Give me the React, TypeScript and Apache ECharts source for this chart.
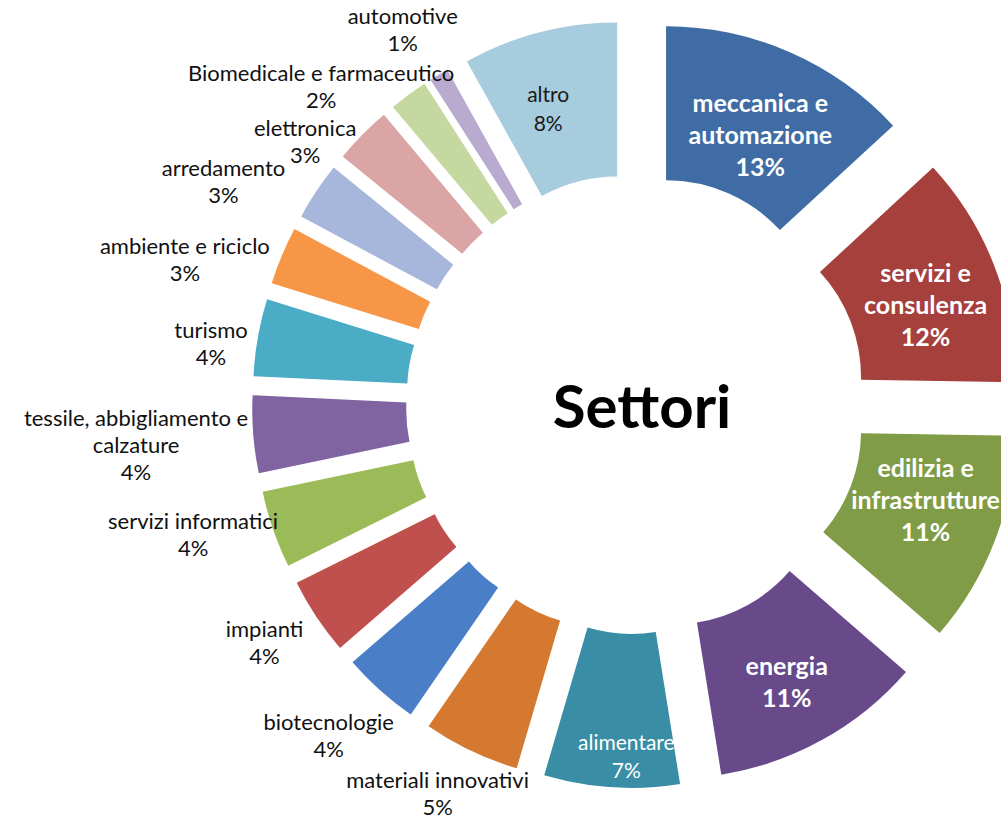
import React, { useEffect, useRef } from "react";
import * as echarts from "echarts";

// ---- data ----
const categories = [
  "meccanica e automazione",
  "servizi e consulenza",
  "edilizia e infrastrutture",
  "energia",
  "alimentare",
  "materiali innovativi",
  "biotecnologie",
  "impianti",
  "servizi informatici",
  "tessile, abbigliamento e calzature",
  "turismo",
  "ambiente e riciclo",
  "arredamento",
  "elettronica",
  "Biomedicale e farmaceutico",
  "automotive",
  "altro",
];
const values = [13, 12, 11, 11, 7, 5, 4, 4, 4, 4, 4, 3, 3, 3, 2, 1, 8];
const labelText = [
  "meccanica e\nautomazione",
  "servizi e\nconsulenza",
  "edilizia e\ninfrastrutture",
  "energia",
  "alimentare",
  "materiali innovativi",
  "biotecnologie",
  "impianti",
  "servizi informatici",
  "tessile, abbigliamento e\ncalzature",
  "turismo",
  "ambiente e riciclo",
  "arredamento",
  "elettronica",
  "Biomedicale e farmaceutico",
  "automotive",
  "altro",
];
const centerTitle = "Settori";

// ---- styles ----
const colors = [
  "#3F6CA4", "#A5403D", "#809C46", "#684A8B", "#398EA5", "#D4792F",
  "#4A7EC6", "#C0504D", "#9BBB59", "#8064A2", "#4BACC6", "#F79646",
  "#A7B7DB", "#DAA5A4", "#C5D89F", "#B8ABCF", "#A7CCDE",
];
// label style key: w = bold white inside, a = white inside, k = dark inside, o = outside
const labelKind = ["w", "w", "w", "w", "a", "o", "o", "o", "o", "o", "o", "o", "o", "o", "o", "o", "k"];
// label nudges [dx, dy]
const labelNudge: number[][] = [
  [0, 14], [0, 11], [0, -16], [0, 6], [10, 42],
  [63, 42], [19, 45], [-8, 25], [10, 4], [0, 10], [-5, 6],
  [-7, 3], [-26, -10], [-1, 6], [51, -9], [24, -46],
  [-10, 4],
];

const FONT = "Lato, 'Open Sans', sans-serif";

export default function App() {
  const ref = useRef<HTMLDivElement>(null);
  useEffect(() => {
    if (!ref.current) return;
    const chart = echarts.init(ref.current, undefined, { renderer: "svg" });
    const rich = {
      w: { align: "center", color: "#ffffff", fontWeight: "bold", fontSize: 25, lineHeight: 32, fontFamily: FONT },
      a: { align: "center", color: "#ffffff", fontSize: 21, lineHeight: 28, fontFamily: FONT },
      k: { align: "center", color: "#1a1a1a", fontSize: 21, lineHeight: 29, fontFamily: FONT },
      o: { align: "center", color: "#111111", fontSize: 22, lineHeight: 27, fontFamily: FONT },
    };
    const data = categories.map((name, i) => ({
      name,
      value: values[i],
      selected: true,
      itemStyle: { color: colors[i] },
      label: {
        position: labelKind[i] === "o" ? "outside" : "inside",
      },
    }));
    chart.setOption({
      animation: false,
      backgroundColor: "#ffffff",
      graphic: [
        {
          type: "text",
          x: 642,
          y: 405,
          style: {
            text: centerTitle,
            font: `bold 60px ${FONT}`,
            fill: "#000000",
            align: "center",
            verticalAlign: "middle",
          },
        },
      ],
      series: [
        {
          type: "pie",
          center: [636, 404],
          radius: [155, 309],
          startAngle: 90,
          clockwise: true,
          selectedMode: "multiple",
          selectedOffset: 75,
          avoidLabelOverlap: false,
          silent: true,
          label: {
            show: true,
            fontFamily: FONT,
            fontSize: 22,
            distanceToLabelLine: 5,
            formatter: (p: any) => {
              const i = p.dataIndex;
              const k = labelKind[i];
              const lines = labelText[i].split("\n");
              lines.push(Math.round(p.percent) + "%");
              return lines.map((l) => `{${k}|${l}}`).join("\n");
            },
            rich,
          },
          labelLine: { show: false, length: 0, length2: 0 },
          labelLayout: (p: any) => {
            const n = labelNudge[p.dataIndex] || [0, 0];
            return { dx: n[0], dy: n[1] };
          },
          data,
        },
      ],
    });
    return () => chart.dispose();
  }, []);
  return (
    <div
      ref={ref}
      style={{ position: "fixed", left: 0, top: 0, width: 1001, height: 819 }}
    />
  );
}
